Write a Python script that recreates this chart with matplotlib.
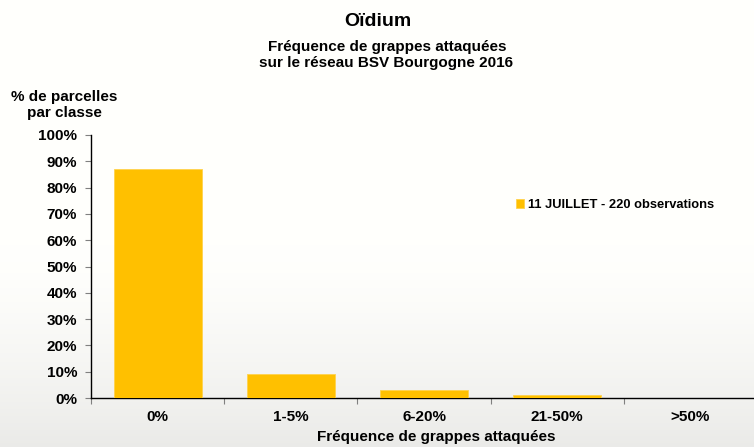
import numpy as np
import matplotlib
matplotlib.use("Agg")
import matplotlib.pyplot as plt

categories = ["0%", "1-5%", "6-20%", "21-50%", ">50%"]
values = [87, 9, 3, 1, 0]
yticks = [0, 10, 20, 30, 40, 50, 60, 70, 80, 90, 100]
ytick_labels = [f"{v}%" for v in yticks]
series_label = "11 JUILLET - 220 observations"

plt.rcParams['font.family'] = ['Liberation Sans', 'DejaVu Sans']
plt.rcParams['font.weight'] = 'bold'

W, H = 754, 447
fig = plt.figure(figsize=(W / 100, H / 100), dpi=100)
fig.patch.set_facecolor('white')

# faded background (light grey toward bottom)
bg = fig.add_axes([0, 0, 1, 1], zorder=-10)
grad = np.linspace(0, 1, 200)[:, None]
shade = np.clip((grad - 0.55) / 0.45, 0, 1) ** 1.5
img = 1.0 - 0.08 * shade
bg.imshow(np.dstack([img, img, img * 0.99]), aspect='auto', extent=[0, 1, 0, 1], origin='upper')
bg.set_axis_off()

left = 91 / W
bottom = 1 - 398 / H
width = 666 / W
height = 263 / H
ax = fig.add_axes([left, bottom, width, height])
ax.set_facecolor('none')

x = np.arange(len(categories))
ax.bar(x, values, width=0.66, color='#FFC000', edgecolor='#FFD24D', linewidth=0.6,
       label=series_label, zorder=3)

ax.set_xlim(-0.5, len(categories) - 0.5)
ax.set_ylim(0, 100)
ax.set_yticks(yticks)
ax.set_yticklabels(ytick_labels, fontsize=11, fontweight='bold')
ax.tick_params(axis='y', direction='out', length=4, width=0.8, color='#808080', pad=6)

ax.set_xticks(np.arange(len(categories) + 1) - 0.5)
ax.set_xticklabels([])
ax.tick_params(axis='x', direction='out', length=4, width=0.8, color='#808080')
for xi, c in zip(x, categories):
    ax.text(xi, -4.5, c, ha='center', va='top', fontsize=11, fontweight='bold',
            transform=ax.transData, clip_on=False)

for s in ['top', 'right']:
    ax.spines[s].set_visible(False)
ax.spines['left'].set_linewidth(1.0)
ax.spines['bottom'].set_linewidth(1.0)

fig.text(378 / W, 1 - 22 / H, "Oïdium", ha='center', va='center', fontsize=14, fontweight='bold')
fig.text(387 / W, 1 - 47 / H, "Fréquence de grappes attaquées", ha='center', va='center',
         fontsize=11, fontweight='bold')
fig.text(386 / W, 1 - 63 / H, "sur le réseau BSV Bourgogne 2016", ha='center', va='center',
         fontsize=11, fontweight='bold')
fig.text(64 / W, 1 - 105 / H, "% de parcelles\npar classe", ha='center', va='center',
         fontsize=11, fontweight='bold', linespacing=1.1)
fig.text(436 / W, 1 - 437 / H, "Fréquence de grappes attaquées", ha='center', va='center',
         fontsize=11, fontweight='bold')

leg = ax.legend(loc='center left', bbox_to_anchor=((511 - 91) / 666, (398 - 205) / 263),
                frameon=False, handlelength=0.6, handleheight=0.6, handletextpad=0.35,
                prop={'size': 9.3, 'weight': 'bold'}, borderaxespad=0)

fig.savefig("out.png", dpi=100)
